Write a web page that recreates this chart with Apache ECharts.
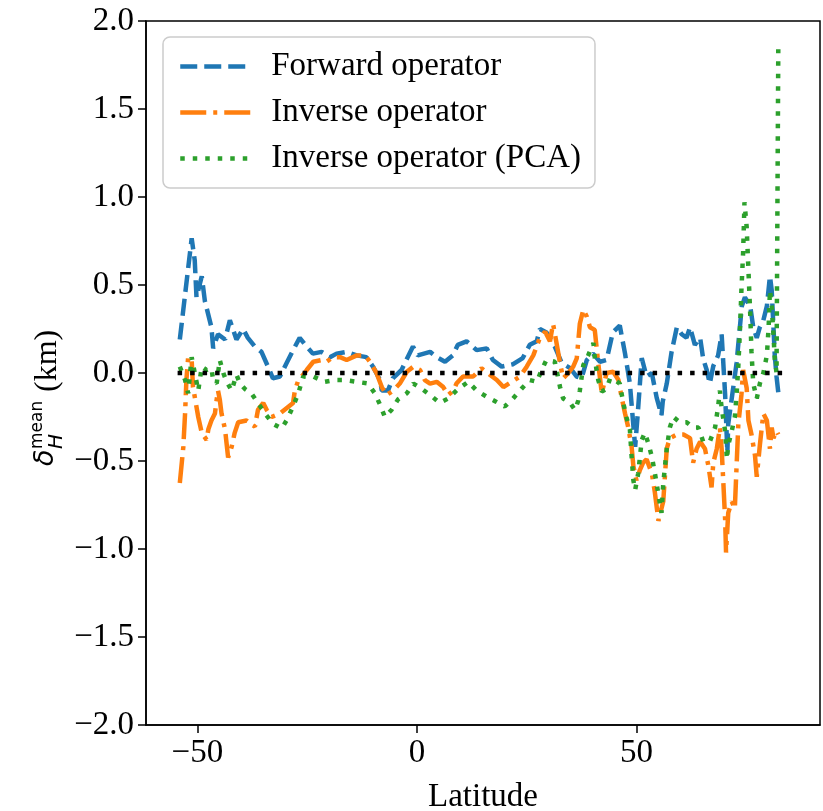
<!DOCTYPE html>
<html>
<head>
<meta charset="utf-8">
<script src="https://cdn.jsdelivr.net/npm/echarts@6/dist/echarts.min.js"></script>
<style>
html,body{margin:0;padding:0;background:#fff;}
#chart{width:823px;height:811px;}
</style>
</head>
<body>
<div id="chart"></div>
<script>
// ---- data ----
const fwdLat = [-54.0,-51.3,-50.6,-50.2,-49.0,-48.3,-46.8,-46.4,-45.3,-43.7,-42.6,-41.1,-39.6,-38.5,-36.9,-35.4,-33.9,-32.8,-31.2,-29.7,-28.2,-26.7,-25.1,-23.7,-21.7,-19.8,-18.3,-16.0,-13.7,-11.5,-10.0,-8.4,-8.0,-6.6,-5.5,-3.5,-2.1,-0.9,0.2,3.0,4.5,6.4,8.2,9.3,11.3,13.6,15.9,17.3,19.3,21.9,24.1,25.7,27.3,28.0,29.5,31.4,33.0,34.9,36.4,37.5,38.7,40.1,41.7,43.2,44.6,46.2,47.4,48.5,49.2,49.7,50.3,51.2,52.3,53.5,54.6,55.7,56.0,56.9,58.0,59.2,60.3,61.4,62.2,63.3,64.5,65.2,66.0,66.7,67.5,68.6,69.4,70.2,70.7,70.9,71.7,72.8,74.0,74.7,75.9,76.6,77.4,78.1,78.9,79.7,80.4,80.8,81.2,81.5,81.9,82.3];
const fwdVal = [0.19,0.765,0.64,0.43,0.55,0.41,0.26,0.14,0.22,0.19,0.30,0.19,0.25,0.20,0.15,0.12,0.035,-0.03,-0.02,0.056,0.13,0.20,0.15,0.11,0.12,0.09,0.11,0.12,0.10,0.09,0.036,-0.04,-0.10,-0.10,-0.03,0.017,0.09,0.15,0.10,0.12,0.09,0.064,0.10,0.16,0.18,0.13,0.14,0.074,0.036,0.05,0.085,0.16,0.18,0.25,0.23,0.15,0.056,0.028,-0.02,-0.03,0.074,0.11,0.064,0.074,0.23,0.27,0.11,-0.06,-0.27,-0.42,-0.23,0.085,-0.02,0.0,-0.14,-0.24,-0.16,-0.06,0.12,0.26,0.22,0.20,0.26,0.16,0.20,0.08,0.017,-0.06,0.04,0.10,0.22,-0.125,-0.45,-0.29,-0.145,0.057,0.38,0.43,0.38,0.26,0.20,0.26,0.30,0.38,0.55,0.47,0.26,0.10,-0.02,-0.11];

const invLat = [-54.0,-53.2,-52.8,-52.5,-52.1,-51.3,-51.0,-50.6,-49.8,-49.0,-47.9,-47.5,-46.8,-46.0,-45.6,-45.3,-44.9,-44.5,-43.7,-43.0,-42.2,-41.5,-40.7,-38.8,-36.9,-36.2,-35.0,-34.2,-33.1,-31.2,-29.7,-28.2,-27.8,-27.0,-25.9,-25.1,-23.6,-21.7,-20.6,-19.1,-17.5,-16.0,-13.7,-11.8,-10.7,-9.2,-8.0,-6.9,-5.4,-3.9,-2.3,-0.8,0.7,1.8,3.0,4.5,6.0,7.1,8.3,9.0,10.5,12.8,14.7,16.6,18.2,19.7,21.6,23.5,25.0,26.5,28.0,29.2,30.3,31.0,31.8,32.6,33.3,34.5,35.6,36.4,37.1,37.9,38.7,39.4,40.5,41.3,42.1,43.2,44.7,45.9,46.6,47.4,48.1,48.9,49.3,50.0,50.8,51.5,52.3,53.5,54.2,55.0,56.1,56.9,57.6,59.2,60.7,62.2,62.9,63.7,64.5,65.6,66.4,67.1,67.5,68.3,69.0,69.4,69.8,70.2,70.4,70.9,71.7,72.4,72.8,73.2,73.9,74.3,75.1,75.5,76.2,77.0,77.4,78.1,78.9,79.7,80.4,80.8,81.2,81.9,82.3];
const invVal = [-0.625,-0.42,-0.23,-0.04,0.09,0.074,-0.08,-0.135,-0.25,-0.34,-0.38,-0.32,-0.27,-0.23,-0.15,-0.10,-0.15,-0.23,-0.32,-0.48,-0.42,-0.34,-0.28,-0.27,-0.305,-0.21,-0.17,-0.21,-0.25,-0.23,-0.20,-0.17,-0.10,-0.04,-0.01,0.017,0.064,0.074,0.064,0.09,0.09,0.074,0.10,0.10,0.064,0.0,-0.08,-0.125,-0.10,-0.06,0.007,0.036,0.017,-0.04,-0.06,-0.05,-0.08,-0.125,-0.10,-0.06,-0.02,-0.02,0.027,-0.01,-0.04,-0.08,-0.05,-0.02,0.036,0.10,0.20,0.235,0.18,0.28,0.17,0.055,-0.03,0.0,0.036,0.083,0.28,0.36,0.32,0.26,0.245,0.055,-0.115,0.0,0.007,-0.04,-0.135,-0.23,-0.305,-0.42,-0.53,-0.61,-0.55,-0.51,-0.49,-0.57,-0.68,-0.84,-0.73,-0.43,-0.37,-0.35,-0.35,-0.37,-0.51,-0.43,-0.39,-0.43,-0.53,-0.65,-0.51,-0.43,-0.31,-0.43,-0.63,-0.835,-1.02,-0.795,-0.73,-0.77,-0.53,-0.29,-0.125,0.017,-0.085,-0.27,-0.35,-0.47,-0.59,-0.41,-0.23,-0.27,-0.43,-0.31,-0.37,-0.33,-0.35];

const pcaLat = [-54.0,-52.8,-52.1,-51.3,-50.6,-49.8,-49.0,-47.9,-46.8,-46.4,-45.6,-44.9,-44.1,-43.3,-42.2,-41.1,-40.3,-39.2,-37.7,-36.2,-34.6,-32.7,-30.8,-29.7,-28.2,-27.0,-25.9,-23.6,-21.0,-18.7,-16.4,-13.7,-11.1,-9.6,-8.4,-7.3,-5.8,-4.3,-2.3,-0.8,1.1,3.0,5.2,7.1,9.4,11.7,13.6,15.9,17.8,20.0,21.9,23.8,25.7,27.3,28.4,29.5,31.4,32.6,33.3,34.9,36.0,36.7,37.1,37.9,39.0,40.2,40.5,40.9,41.3,42.1,43.2,44.0,45.1,46.2,47.0,47.7,48.5,48.9,49.3,49.7,50.4,51.2,51.9,52.7,53.5,54.2,55.0,55.7,56.1,56.9,57.6,58.4,59.9,61.4,62.9,64.1,65.2,66.7,67.9,68.6,69.0,69.4,70.2,70.6,70.9,71.7,72.4,72.8,73.2,73.6,73.9,74.3,74.6,75.1,75.5,75.9,76.2,76.6,77.4,78.1,78.9,79.7,80.1,80.4,80.8,81.2,81.5,81.9,82.3];
const pcaVal = [0.036,-0.04,-0.115,0.09,0.0,-0.10,0.036,0.017,0.027,-0.04,-0.06,0.074,0.0,-0.05,-0.10,-0.01,-0.06,-0.09,-0.115,-0.17,-0.23,-0.29,-0.315,-0.27,-0.19,-0.115,-0.02,-0.02,-0.05,-0.04,-0.04,-0.05,-0.06,-0.115,-0.18,-0.25,-0.21,-0.15,-0.115,-0.06,-0.09,-0.125,-0.17,-0.145,-0.09,-0.05,-0.10,-0.135,-0.16,-0.19,-0.145,-0.09,-0.04,-0.05,0.017,0.074,0.064,-0.08,-0.145,-0.17,-0.21,-0.16,-0.10,0.045,0.10,0.17,0.09,0.017,-0.04,-0.105,-0.09,-0.03,-0.04,-0.06,-0.17,-0.25,-0.32,-0.475,-0.61,-0.665,-0.57,-0.38,-0.34,-0.40,-0.475,-0.57,-0.69,-0.795,-0.63,-0.43,-0.31,-0.25,-0.28,-0.28,-0.31,-0.31,-0.39,-0.39,-0.31,-0.19,-0.10,-0.20,-0.33,-0.49,-0.41,-0.33,-0.25,-0.125,0.04,0.26,0.47,0.69,0.97,0.83,0.585,0.34,0.12,-0.06,-0.145,-0.06,0.0,0.10,0.26,0.47,0.38,0.22,0.08,0.0,1.84];

const zeroLat = [-54.5, 84.0];
const zeroVal = [0, 0];

const seriesNames = ['Forward operator', 'Inverse operator', 'Inverse operator (PCA)'];
const xTicks = [-50, 0, 50];
const yTicks = [-2.0, -1.5, -1.0, -0.5, 0.0, 0.5, 1.0, 1.5, 2.0];

// ---- chart ----
const pairs = (xs, ys) => xs.map((x, i) => [x, ys[i]]);
const serif = '"Liberation Serif", "Times New Roman", serif';
const minus = s => String(s).replace('-', '\u2212');
const FS = 33;

const chart = echarts.init(document.getElementById('chart'), null, {renderer: 'canvas'});
chart.setOption({
  animation: false,
  backgroundColor: '#fff',
  grid: {left: 146, right: 3, top: 21, bottom: 86, containLabel: false, outerBoundsMode: 'none',
         show: true, borderColor: '#000', borderWidth: 1.5, backgroundColor: 'transparent'},
  xAxis: {
    type: 'value', min: -61.7, max: 91.8,
    name: 'Latitude', nameLocation: 'middle', nameGap: 56,
    nameTextStyle: {fontFamily: serif, fontSize: FS, color: '#000'},
    axisLine: {show: true, onZero: false, lineStyle: {color: '#000', width: 1.5}},
    axisTick: {show: true, inside: false, length: 8, lineStyle: {color: '#000', width: 1.5}, customValues: xTicks},
    axisLabel: {fontFamily: serif, fontSize: FS, color: '#000', margin: 12, customValues: xTicks, formatter: v => minus(v)},
    splitLine: {show: false}
  },
  yAxis: {
    type: 'value', min: yTicks[0], max: yTicks[yTicks.length - 1], interval: 0.5,
    axisLine: {show: true, onZero: false, lineStyle: {color: '#000', width: 1.5}},
    axisTick: {show: true, inside: false, length: 8, lineStyle: {color: '#000', width: 1.5}},
    axisLabel: {fontFamily: serif, fontSize: FS, color: '#000', margin: 12, formatter: v => minus(v.toFixed(1))},
    splitLine: {show: false}
  },
  legend: {
    orient: 'vertical', left: 163, top: 37,
    padding: [13, 14, 13, 15],
    itemWidth: 72, itemHeight: 30, itemGap: 13,
    backgroundColor: '#fff', borderColor: '#cccccc', borderWidth: 1.5, borderRadius: 7,
    itemStyle: {opacity: 0},
    lineStyle: {width: 4.5},
    textStyle: {fontFamily: serif, fontSize: FS, lineHeight: 30, color: '#000', padding: [0, 0, 0, 14]},
    data: seriesNames
  },
  series: [
    {name: seriesNames[0], type: 'line', data: pairs(fwdLat, fwdVal), symbol: 'none', z: 2,
     lineStyle: {color: '#1f77b4', width: 4.5, type: [17, 7]}, itemStyle: {color: '#1f77b4'}},
    {name: seriesNames[1], type: 'line', data: pairs(invLat, invVal), symbol: 'none', z: 3,
     lineStyle: {color: '#ff7f0e', width: 4.5, type: [26, 7, 4, 7]}, itemStyle: {color: '#ff7f0e'}},
    {name: seriesNames[2], type: 'line', data: pairs(pcaLat, pcaVal), symbol: 'none', z: 4,
     lineStyle: {color: '#2ca02c', width: 4.5, type: [4.5, 8]}, itemStyle: {color: '#2ca02c'}},
    {name: 'zero', type: 'line', data: pairs(zeroLat, zeroVal), symbol: 'none', z: 5,
     lineStyle: {color: '#000', width: 4.5, type: [4.5, 8]}, itemStyle: {color: '#000'}}
  ],
  graphic: [{
    type: 'group', x: 48, y: 466, rotation: Math.PI / 2,
    children: [
      {type: 'text', x: 0, y: -2, style: {text: 'δ', font: 'italic 27px "DejaVu Sans"', fill: '#000', verticalAlign: 'middle'}},
      {type: 'text', x: 17, y: -10, style: {text: 'mean', font: '17px "DejaVu Sans"', fill: '#000', verticalAlign: 'middle'}},
      {type: 'text', x: 17, y: 9, style: {text: 'H', font: 'italic 20px "DejaVu Sans"', fill: '#000', verticalAlign: 'middle'}},
      {type: 'text', x: 74, y: 0, style: {text: '(km)', font: '32px "Liberation Serif"', fill: '#000', verticalAlign: 'middle'}}
    ]
  }]
});
</script>
</body>
</html>
